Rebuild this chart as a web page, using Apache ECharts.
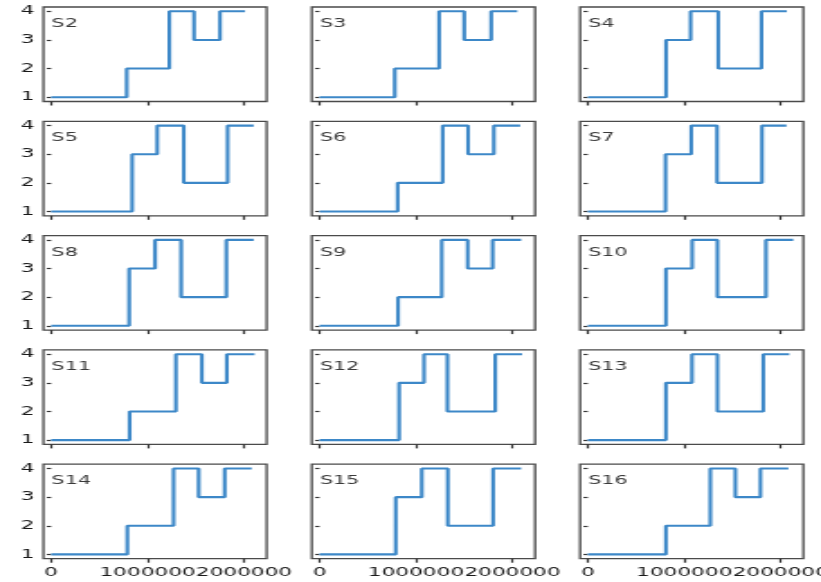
<!DOCTYPE html>
<html>
<head>
<meta charset="utf-8">
<script src="https://cdn.jsdelivr.net/npm/echarts@6/dist/echarts.min.js"></script>
<style>
  html, body { margin: 0; padding: 0; background: #fff; overflow: hidden; }
  #c { width: 472px; height: 582px; transform: scaleX(1.8004); transform-origin: 0 0; }
</style>
</head>
<body>
<div id="c"></div>
<script>
// ---- data ----
const panelLabels = ['S2','S3','S4','S5','S6','S7','S8','S9','S10','S11','S12','S13','S14','S15','S16'];
// x positions (in units) where the level changes, per panel (first point is the start at 0)
const changeX = [
  [0, 784000, 1226000, 1482000, 1751000],
  [0, 780000, 1240000, 1500000, 1780000],
  [0, 811000, 1066000, 1353000, 1801000],
  [0, 840000, 1100000, 1375000, 1830000],
  [0, 810000, 1277000, 1540000, 1807000],
  [0, 806000, 1073000, 1340000, 1806000],
  [0, 809000, 1078000, 1348000, 1817000],
  [0, 814000, 1267000, 1536000, 1795000],
  [0, 810000, 1082000, 1344000, 1847000],
  [0, 814000, 1294000, 1563000, 1822000],
  [0, 825000, 1083000, 1326000, 1822000],
  [0, 810000, 1080000, 1344000, 1820000],
  [0, 790000, 1270000, 1530000, 1800000],
  [0, 790000, 1060000, 1330000, 1800000],
  [0, 810000, 1270000, 1530000, 1790000]
];
const levelsA = [1, 2, 4, 3, 4];
const levelsB = [1, 3, 4, 2, 4];
const panelLevels = [levelsA, levelsA, levelsB, levelsB, levelsA, levelsB, levelsB, levelsA, levelsB, levelsA, levelsB, levelsB, levelsA, levelsB, levelsA];
const endX = [2010000, 2050000, 2063000, 2100000, 2080000, 2060000, 2100000, 2090000, 2130000, 2110000, 2100000, 2090000, 2080000, 2090000, 2080000];
const xTicks = [0, 1000000, 2000000];
const yTicks = [1, 2, 3, 4];

// ---- layout ----
const colLeft = [24.1, 173.2, 322.2];
const gridW = 124;
const rowTop0 = 7, rowPitch = 114.3, gridH = 94.5;
const FONT = 'DejaVu Sans';

const grids = [], xAxes = [], yAxes = [], series = [], titles = [];
panelLabels.forEach((name, i) => {
  const r = Math.floor(i / 3), c = i % 3;
  const top = rowTop0 + rowPitch * r;
  grids.push({ left: colLeft[c], top: top, width: gridW, height: gridH,
    show: true, borderColor: '#4a4a4a', borderWidth: 1.3, backgroundColor: '#fff' });
  xAxes.push({
    type: 'value', gridIndex: i, min: -80000, max: 2235000,
    axisLine: { show: false },
    splitLine: { show: false },
    axisTick: { show: true, inside: false, length: 4, customValues: xTicks, lineStyle: { color: '#333', width: 1.2 } },
    axisLabel: { show: r === 4, customValues: xTicks, margin: 8, fontFamily: FONT, fontSize: 12, color: '#1a1a1a',
      hideOverlap: false, formatter: v => String(v) }
  });
  yAxes.push({
    type: 'value', gridIndex: i, min: 0.85, max: 4.15,
    axisLine: { show: false },
    splitLine: { show: false },
    axisTick: { show: true, inside: false, length: 2.4, customValues: yTicks, lineStyle: { color: '#333', width: 1.2 } },
    axisLabel: { show: c === 0, customValues: yTicks, margin: 5, fontFamily: FONT, fontSize: 12, color: '#1a1a1a' }
  });
  const pts = changeX[i].map((x, k) => [x, panelLevels[i][k]]);
  pts.push([endX[i], panelLevels[i][panelLevels[i].length - 1]]);
  series.push({
    type: 'line', xAxisIndex: i, yAxisIndex: i, step: 'end', data: pts,
    showSymbol: false, symbol: 'none', animation: false,
    lineStyle: { color: '#3d88c8', width: 2.1 }
  });
  titles.push({ text: name, left: colLeft[c] + 4.5, top: top + 11, padding: 0,
    textStyle: { fontFamily: FONT, fontSize: 11.5, fontWeight: 'normal', color: '#3a3a3a' } });
});

const chart = echarts.init(document.getElementById('c'), null, { renderer: 'canvas' });
chart.setOption({
  animation: false,
  backgroundColor: '#fff',
  title: titles,
  grid: grids,
  xAxis: xAxes,
  yAxis: yAxes,
  series: series
});
</script>
</body>
</html>
